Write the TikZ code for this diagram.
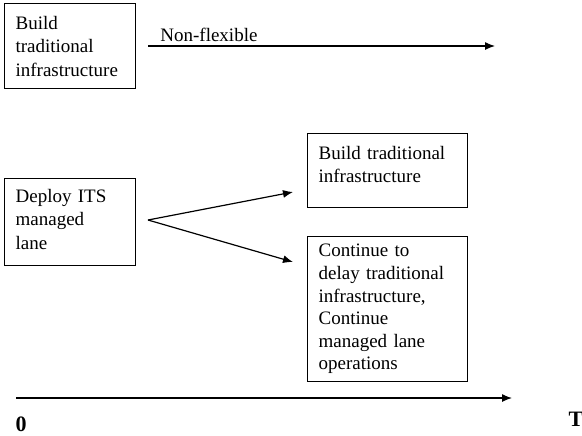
\documentclass[tikz,border=0pt]{standalone}
\usepackage{fontspec}
\setmainfont{Liberation Serif}
\usetikzlibrary{arrows.meta}
\tikzset{
	box/.style={draw, line width=.6pt, anchor=north west, align=left, inner xsep=5.5pt, font=\fontsize{9.5}{11.75}\selectfont},
	lbl/.style={inner sep=0pt, font=\fontsize{9.5}{11.75}\selectfont},
	axlbl/.style={inner sep=0pt, font=\fontsize{11}{13}\selectfont\bfseries},
	arr/.style={-{Latex[length=5pt, width=4pt]}, line width=.6pt},
}
\begin{document}
\begin{tikzpicture}[x=.5pt, y=-.5pt]
		\useasboundingbox(0, 0)rectangle(582, 435);
		% upper row
		\node[box, minimum width=65.5pt, minimum height=42.5pt, text width=54.5pt](build)at(4, 3){Build\\traditional\\infrastructure};
		\coordinate(flexstart)at(148, 46);
		\coordinate(flexend)at(495, 46);
		\draw[arr](flexstart)--(flexend);
		\node[lbl, anchor=base west](nonflex)at(160, 41){Non-flexible};
		% lower row
		\node[box, minimum width=65.5pt, minimum height=43.5pt, text width=54.5pt](deploy)at(4, 178){Deploy ITS\\managed\\lane\\[-8.75pt]\mbox{}};
		\node[box, minimum width=80pt, minimum height=37pt, text width=69pt](later)at(307, 133){Build traditional\\infrastructure\\[-5.75pt]\mbox{}};
		\node[box, minimum width=80pt, minimum height=72.5pt, text width=69pt, inner ysep=1.5pt, font=\fontsize{9.5}{11.3}\selectfont](delay)at(307, 236){Continue to\\delay traditional\\infrastructure,\\Continue\\managed lane\\operations};
		\coordinate(fork)at(148, 220);
		\coordinate(up)at(293, 192);
		\coordinate(down)at(293, 262);
		\draw[arr](fork)--(up);
		\draw[arr](fork)--(down);
		% time axis
		\coordinate(tzero)at(16, 398);
		\coordinate(tend)at(512, 398);
		\draw[arr](tzero)--(tend);
		\node[axlbl](zero)at(21, 424){0};
		\node[axlbl](tee)at(576, 419){T};
	\end{tikzpicture}
\end{document}
